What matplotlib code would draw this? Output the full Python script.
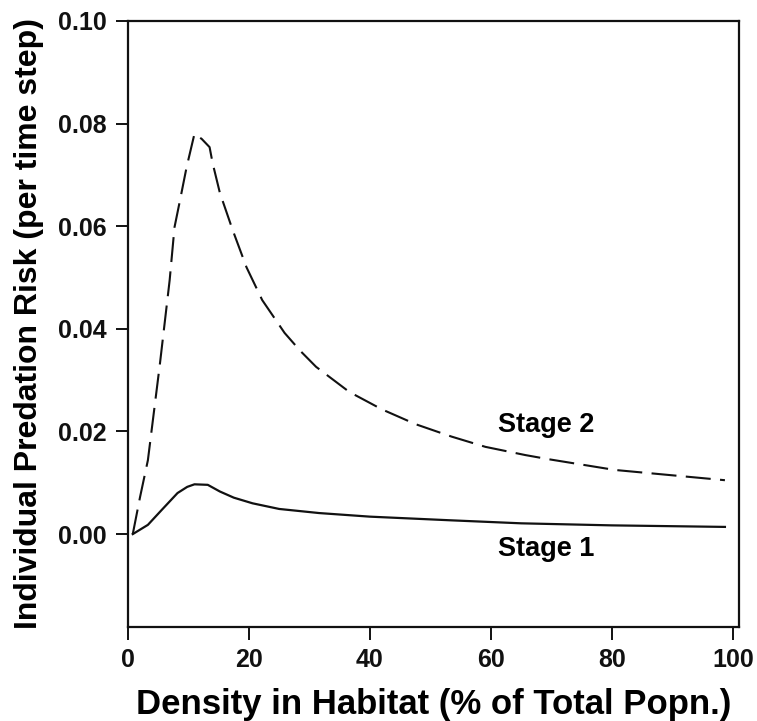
import matplotlib
matplotlib.use("Agg")
import matplotlib.pyplot as plt

plt.rcParams['font.family'] = ['Liberation Sans', 'DejaVu Sans']
plt.rcParams['font.weight'] = 'bold'

stage1_x = [0.8, 3.3, 5.5, 8.2, 9.8, 11.0, 13.2, 15.2, 17.5, 20.6, 25.0, 31.6, 40.0, 53.1, 65.0, 80.0, 98.7]
stage1_y = [0.0, 0.0018, 0.0046, 0.008, 0.0092, 0.0097, 0.0096, 0.0083, 0.0071, 0.006, 0.0049, 0.0041,
            0.0034, 0.0027, 0.0021, 0.0017, 0.0014]

stage2_x = [0.8, 2.0, 3.3, 5.3, 6.9, 7.7, 8.6, 9.7, 11.0, 12.2, 13.5, 14.0, 15.2, 17.3, 19.6, 22.2,
            25.9, 28.5, 31.1, 36.6, 42.0, 47.6, 53.5, 59.1, 65.7, 69.5, 80.5, 98.7]
stage2_y = [0.0, 0.0072, 0.0144, 0.0333, 0.0495, 0.0598, 0.065, 0.0715, 0.078, 0.077, 0.0754, 0.0723,
            0.0665, 0.0593, 0.052, 0.0456, 0.0392, 0.0357, 0.0326, 0.0277, 0.0243, 0.0214, 0.019,
            0.017, 0.0154, 0.0146, 0.0125, 0.0105]

x_ticks = [0, 20, 40, 60, 80, 100]
y_ticks = [0.00, 0.02, 0.04, 0.06, 0.08, 0.10]

fig = plt.figure(figsize=(7.57, 7.21), dpi=100)
ax = fig.add_axes([0.169, 0.1304, 0.807, 0.8406])

ax.plot(stage1_x, stage1_y, color='#111111', lw=1.6, solid_joinstyle='round')
ax.plot(stage2_x, stage2_y, color='#111111', lw=1.5, ls=(0, (12, 4.5)))

ax.set_xlim(0, 101)
ax.set_ylim(-0.0181, 0.10)
ax.set_xticks(x_ticks)
ax.set_xticklabels([str(v) for v in x_ticks])
ax.set_yticks(y_ticks)
ax.set_yticklabels([f"{v:.2f}" for v in y_ticks])

for s in ax.spines.values():
    s.set_linewidth(1.6)
    s.set_color('#111111')

ax.tick_params(axis='both', direction='out', length=9, width=1.4, labelsize=18,
               colors='#111111', pad=6)
for lab in ax.get_xticklabels() + ax.get_yticklabels():
    lab.set_fontweight('bold')

ax.set_xlabel("Density in Habitat (% of Total Popn.)", fontsize=25, fontweight='bold', labelpad=12)
ax.set_ylabel("Individual Predation Risk (per time step)", fontsize=23, fontweight='bold', labelpad=10)

ax.text(61.2, 0.0213, "Stage 2", fontsize=19.5, fontweight='bold', va='center', ha='left')
ax.text(61.2, -0.003, "Stage 1", fontsize=19.5, fontweight='bold', va='center', ha='left')

fig.savefig("out.png", dpi=100)
